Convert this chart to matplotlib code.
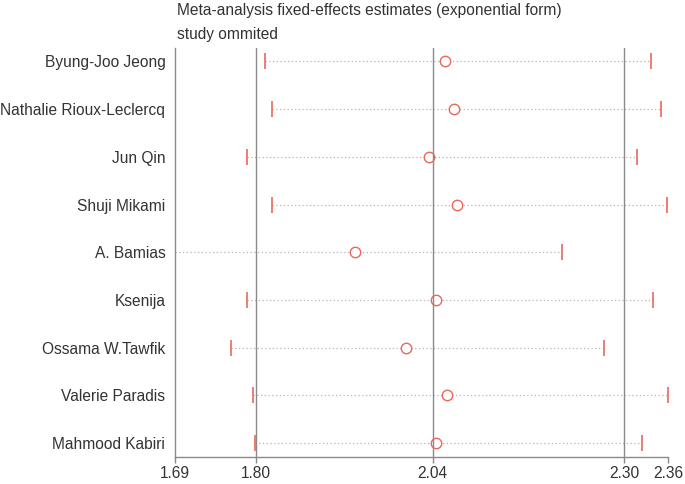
import numpy as np
import matplotlib.pyplot as plt

plt.rcParams['font.family'] = ['Liberation Sans', 'DejaVu Sans']

# 각 연구를 제외했을 때의 추정치 (exp 형태)
studies = ['Byung-Joo Jeong', 'Nathalie Rioux-Leclercq', 'Jun Qin', 'Shuji Mikami',
           'A. Bamias', 'Ksenija', 'Ossama W.Tawfik', 'Valerie Paradis', 'Mahmood Kabiri']
estimate = [2.057, 2.069, 2.035, 2.073, 1.935, 2.045, 2.004, 2.060, 2.045]
lower = [1.812, 1.822, 1.788, 1.822, 1.690, 1.788, 1.766, 1.796, 1.799]
upper = [2.337, 2.350, 2.318, 2.359, 2.216, 2.340, 2.273, 2.360, 2.325]

# 전체 추정치 기준선
ref_lines = [1.80, 2.04, 2.30]
xticks = [1.69, 1.80, 2.04, 2.30, 2.36]

red = '#e8685c'
gray = '#8a8a8a'
txt = '#333333'

fig = plt.figure(figsize=(6.85, 4.84), dpi=100)
ax = fig.add_axes([0.2555, 0.0558, 0.72, 0.845])

y = np.arange(1, len(studies) + 1)

ax.hlines(y, lower, upper, colors='#b5b5b5', linestyles=(0, (1, 2)), linewidth=0.9)
ax.plot(lower, y, ls='none', marker='|', ms=12, mew=1.2, color=red)
ax.plot(upper, y, ls='none', marker='|', ms=12, mew=1.2, color=red)
ax.plot(estimate, y, ls='none', marker='o', ms=7.5, mfc='white', mec=red, mew=1.0)

for v in ref_lines:
    ax.axvline(v, color=gray, linewidth=1.0)

ax.set_xlim(1.69, 2.36)
ax.set_ylim(9.29, 0.72)

ax.set_yticks(y)
ax.set_yticklabels(studies, fontsize=11.2, color=txt)
ax.tick_params(axis='y', length=0, pad=7)

ax.set_xticks(xticks)
ax.set_xticklabels(['%.2f' % t for t in xticks], fontsize=11.2, color=txt)
ax.tick_params(axis='x', length=4.5, width=1.0, color=gray, pad=2)

for s in ['top', 'right']:
    ax.spines[s].set_visible(False)
for s in ['left', 'bottom']:
    ax.spines[s].set_color(gray)
    ax.spines[s].set_linewidth(1.0)

fig.text(177 / 685, 1 - 10 / 484, 'Meta-analysis fixed-effects estimates (exponential form)',
         fontsize=11.2, color=txt, va='center', ha='left')
fig.text(177 / 685, 1 - 34 / 484, 'study ommited',
         fontsize=11.2, color=txt, va='center', ha='left')

fig.savefig('out.png', dpi=100)
